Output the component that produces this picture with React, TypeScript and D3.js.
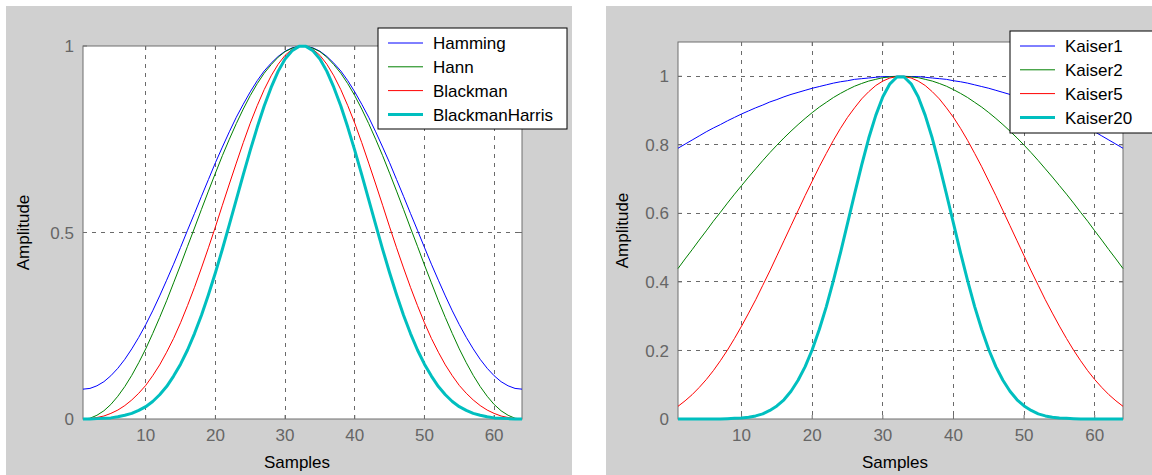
import React from 'react';
import * as d3 from 'd3';

// window values per sample (1..64)
const hamming = [
  0.080, 0.082, 0.089, 0.100, 0.116, 0.136, 0.160, 0.188, 0.219, 0.253, 0.290, 0.330, 0.372, 0.415, 0.460, 0.506,
  0.551, 0.597, 0.642, 0.687, 0.729, 0.770, 0.809, 0.844, 0.877, 0.907, 0.933, 0.954, 0.972, 0.986, 0.995, 0.999,
  0.999, 0.995, 0.986, 0.972, 0.954, 0.933, 0.907, 0.877, 0.844, 0.809, 0.770, 0.729, 0.687, 0.642, 0.597, 0.551,
  0.506, 0.460, 0.415, 0.372, 0.330, 0.290, 0.253, 0.219, 0.188, 0.160, 0.136, 0.116, 0.100, 0.089, 0.082, 0.080,
];
const hann = [
  0.000, 0.002, 0.010, 0.022, 0.039, 0.061, 0.087, 0.117, 0.151, 0.188, 0.229, 0.272, 0.317, 0.365, 0.413, 0.463,
  0.512, 0.562, 0.611, 0.659, 0.706, 0.750, 0.792, 0.831, 0.867, 0.899, 0.927, 0.950, 0.970, 0.985, 0.994, 0.999,
  0.999, 0.994, 0.985, 0.970, 0.950, 0.927, 0.899, 0.867, 0.831, 0.792, 0.750, 0.706, 0.659, 0.611, 0.562, 0.512,
  0.463, 0.413, 0.365, 0.317, 0.272, 0.229, 0.188, 0.151, 0.117, 0.087, 0.061, 0.039, 0.022, 0.010, 0.002, 0.000,
];
const blackman = [
  0.000, 0.001, 0.004, 0.008, 0.015, 0.024, 0.036, 0.051, 0.069, 0.090, 0.116, 0.145, 0.179, 0.216, 0.258, 0.304,
  0.353, 0.405, 0.459, 0.515, 0.573, 0.630, 0.686, 0.741, 0.793, 0.840, 0.883, 0.920, 0.951, 0.975, 0.991, 0.999,
  0.999, 0.991, 0.975, 0.951, 0.920, 0.883, 0.840, 0.793, 0.741, 0.686, 0.630, 0.573, 0.515, 0.459, 0.405, 0.353,
  0.304, 0.258, 0.216, 0.179, 0.145, 0.116, 0.090, 0.069, 0.051, 0.036, 0.024, 0.015, 0.008, 0.004, 0.001, 0.000,
];
const blackmanHarris = [
  0.000, 0.000, 0.001, 0.002, 0.003, 0.006, 0.010, 0.015, 0.023, 0.033, 0.047, 0.065, 0.087, 0.115, 0.147, 0.185,
  0.229, 0.278, 0.333, 0.392, 0.455, 0.521, 0.588, 0.655, 0.720, 0.782, 0.839, 0.889, 0.932, 0.965, 0.987, 0.999,
  0.999, 0.987, 0.965, 0.932, 0.889, 0.839, 0.782, 0.720, 0.655, 0.588, 0.521, 0.455, 0.392, 0.333, 0.278, 0.229,
  0.185, 0.147, 0.115, 0.087, 0.065, 0.047, 0.033, 0.023, 0.015, 0.010, 0.006, 0.003, 0.002, 0.001, 0.000, 0.000,
];
const kaiser1 = [
  0.790, 0.802, 0.814, 0.826, 0.838, 0.849, 0.859, 0.870, 0.880, 0.890, 0.899, 0.908, 0.916, 0.925, 0.932, 0.940,
  0.947, 0.953, 0.959, 0.965, 0.970, 0.975, 0.980, 0.984, 0.987, 0.991, 0.993, 0.995, 0.997, 0.999, 0.999, 1.000,
  1.000, 0.999, 0.999, 0.997, 0.995, 0.993, 0.991, 0.987, 0.984, 0.980, 0.975, 0.970, 0.965, 0.959, 0.953, 0.947,
  0.940, 0.932, 0.925, 0.916, 0.908, 0.899, 0.890, 0.880, 0.870, 0.859, 0.849, 0.838, 0.826, 0.814, 0.802, 0.790,
];
const kaiser2 = [
  0.439, 0.467, 0.494, 0.522, 0.549, 0.577, 0.603, 0.630, 0.656, 0.681, 0.706, 0.730, 0.754, 0.777, 0.799, 0.820,
  0.840, 0.859, 0.877, 0.894, 0.910, 0.924, 0.938, 0.950, 0.961, 0.971, 0.979, 0.986, 0.991, 0.996, 0.998, 1.000,
  1.000, 0.998, 0.996, 0.991, 0.986, 0.979, 0.971, 0.961, 0.950, 0.938, 0.924, 0.910, 0.894, 0.877, 0.859, 0.840,
  0.820, 0.799, 0.777, 0.754, 0.730, 0.706, 0.681, 0.656, 0.630, 0.603, 0.577, 0.549, 0.522, 0.494, 0.467, 0.439,
];
const kaiser5 = [
  0.037, 0.053, 0.071, 0.092, 0.115, 0.141, 0.170, 0.201, 0.235, 0.271, 0.309, 0.348, 0.390, 0.432, 0.476, 0.520,
  0.564, 0.608, 0.652, 0.694, 0.736, 0.775, 0.813, 0.848, 0.880, 0.908, 0.934, 0.955, 0.973, 0.986, 0.995, 0.999,
  0.999, 0.995, 0.986, 0.973, 0.955, 0.934, 0.908, 0.880, 0.848, 0.813, 0.775, 0.736, 0.694, 0.652, 0.608, 0.564,
  0.520, 0.476, 0.432, 0.390, 0.348, 0.309, 0.271, 0.235, 0.201, 0.170, 0.141, 0.115, 0.092, 0.071, 0.053, 0.037,
];
const kaiser20 = [
  0.000, 0.000, 0.000, 0.000, 0.000, 0.000, 0.000, 0.001, 0.002, 0.003, 0.005, 0.009, 0.015, 0.025, 0.038, 0.056,
  0.081, 0.113, 0.153, 0.202, 0.261, 0.328, 0.404, 0.485, 0.571, 0.657, 0.741, 0.819, 0.886, 0.940, 0.978, 0.998,
  0.998, 0.978, 0.940, 0.886, 0.819, 0.741, 0.657, 0.571, 0.485, 0.404, 0.328, 0.261, 0.202, 0.153, 0.113, 0.081,
  0.056, 0.038, 0.025, 0.015, 0.009, 0.005, 0.003, 0.002, 0.001, 0.000, 0.000, 0.000, 0.000, 0.000, 0.000, 0.000,
];

const xTicks = [10, 20, 30, 40, 50, 60];
const leftYTicks = [0, 0.5, 1];
const rightYTicks = [0, 0.2, 0.4, 0.6, 0.8, 1];

const BLUE = '#0000ff';
const GREEN = '#008000';
const RED = '#ff0000';
const CYAN = '#00bfbf';

const leftSeries = [
  { name: 'Hamming', values: hamming, color: BLUE, width: 1 },
  { name: 'Hann', values: hann, color: GREEN, width: 1 },
  { name: 'Blackman', values: blackman, color: RED, width: 1 },
  { name: 'BlackmanHarris', values: blackmanHarris, color: CYAN, width: 3 },
];
const rightSeries = [
  { name: 'Kaiser1', values: kaiser1, color: BLUE, width: 1 },
  { name: 'Kaiser2', values: kaiser2, color: GREEN, width: 1 },
  { name: 'Kaiser5', values: kaiser5, color: RED, width: 1 },
  { name: 'Kaiser20', values: kaiser20, color: CYAN, width: 3 },
];

const FONT = '"Liberation Sans", Arial, sans-serif';
const TICK_COLOR = '#666';
const FRAME_COLOR = '#6e6e6e';
const GRID_COLOR = '#6a6a6a';

function Panel({ id, bg, plot, yMax, yTicks, series, legend, yLabelX, xLabelX }) {
  const x = d3.scaleLinear().domain([1, 64]).range([plot.left, plot.right]);
  const y = d3.scaleLinear().domain([0, yMax]).range([plot.bottom, plot.top]);
  const line = d3.line<number>()
    .x((d, i) => x(i + 1))
    .y(d => y(d));

  const gridY = yTicks.filter(t => t > 0 && y(t) > plot.top + 1);

  return (
    <g>
      <rect x={bg.x} y={bg.y} width={bg.w} height={bg.h} fill="#d0d0d0" />
      <defs>
        <clipPath id={id}>
          <rect x={plot.left - 2} y={plot.top - 2}
            width={plot.right - plot.left + 4} height={plot.bottom - plot.top + 4} />
        </clipPath>
      </defs>
      <rect x={plot.left} y={plot.top} width={plot.right - plot.left}
        height={plot.bottom - plot.top} fill="#fff" />

      {/* dashed grid */}
      {xTicks.map(t => (
        <line key={'gx' + t} x1={x(t)} x2={x(t)} y1={plot.top} y2={plot.bottom}
          stroke={GRID_COLOR} strokeDasharray="4,5" shapeRendering="crispEdges" />
      ))}
      {gridY.map(t => (
        <line key={'gy' + t} x1={plot.left} x2={plot.right} y1={y(t)} y2={y(t)}
          stroke={GRID_COLOR} strokeDasharray="4,5" shapeRendering="crispEdges" />
      ))}

      {/* frame + inward ticks */}
      <rect x={plot.left} y={plot.top} width={plot.right - plot.left}
        height={plot.bottom - plot.top} fill="none" stroke={FRAME_COLOR} />
      {xTicks.map(t => (
        <g key={'tx' + t}>
          <line x1={x(t)} x2={x(t)} y1={plot.bottom} y2={plot.bottom - 4} stroke={FRAME_COLOR} />
          <line x1={x(t)} x2={x(t)} y1={plot.top} y2={plot.top + 4} stroke={FRAME_COLOR} />
          <text x={x(t)} y={plot.bottom + 22} textAnchor="middle" fontSize={17}
            fontFamily={FONT} fill={TICK_COLOR}>{t}</text>
        </g>
      ))}
      {yTicks.map(t => (
        <g key={'ty' + t}>
          <line x1={plot.left} x2={plot.left + 4} y1={y(t)} y2={y(t)} stroke={FRAME_COLOR} />
          <line x1={plot.right} x2={plot.right - 4} y1={y(t)} y2={y(t)} stroke={FRAME_COLOR} />
          <text x={plot.left - 9} y={y(t)} dy="0.36em" textAnchor="end" fontSize={17}
            fontFamily={FONT} fill={TICK_COLOR}>{String(t)}</text>
        </g>
      ))}

      {/* curves */}
      <g clipPath={`url(#${id})`}>
        {series.map(s => (
          <path key={s.name} d={line(s.values)} fill="none" stroke={s.color}
            strokeWidth={s.width} strokeLinejoin="round" />
        ))}
      </g>

      {/* axis labels */}
      <text x={xLabelX} y={468} textAnchor="middle" fontSize={17} fontFamily={FONT}
        fill="#000">Samples</text>
      <text transform={`translate(${yLabelX},${(plot.top + plot.bottom) / 2}) rotate(-90)`}
        textAnchor="middle" fontSize={17} fontFamily={FONT} fill="#000">Amplitude</text>

      {/* legend */}
      <rect x={legend.x} y={legend.y} width={legend.w} height={legend.h}
        fill="#fff" stroke="#000" />
      {series.map((s, i) => {
        const cy = legend.y + 15 + i * 23.8;
        return (
          <g key={'lg' + s.name}>
            <line x1={legend.x + 10} x2={legend.x + 45} y1={cy} y2={cy}
              stroke={s.color} strokeWidth={s.width} />
            <text x={legend.x + 55} y={cy} dy="0.36em" fontSize={17} fontFamily={FONT}
              fill="#000">{s.name}</text>
          </g>
        );
      })}
    </g>
  );
}

export default function App() {
  return (
    <svg width={1152} height={475} style={{ position: 'absolute', left: 0, top: 0 }}>
      <rect width={1152} height={475} fill="#fff" />
      <Panel
        id="clipLeft"
        bg={{ x: 6, y: 6, w: 566, h: 469 }}
        plot={{ left: 83, top: 46, right: 522, bottom: 419 }}
        yMax={1}
        yTicks={leftYTicks}
        series={leftSeries}
        legend={{ x: 378, y: 28, w: 189, h: 101 }}
        yLabelX={29}
        xLabelX={297}
      />
      <Panel
        id="clipRight"
        bg={{ x: 606, y: 6, w: 546, h: 469 }}
        plot={{ left: 678, top: 42, right: 1123, bottom: 419 }}
        yMax={1.1}
        yTicks={rightYTicks}
        series={rightSeries}
        legend={{ x: 1010, y: 31, w: 160, h: 102 }}
        yLabelX={628}
        xLabelX={895}
      />
    </svg>
  );
}
